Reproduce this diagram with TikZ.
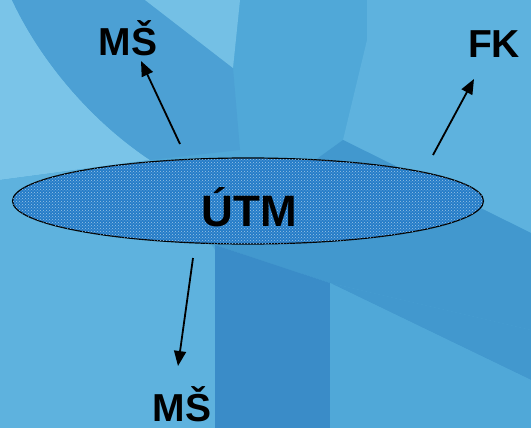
\documentclass[tikz,border=0pt]{standalone}
\usepackage{fontspec}
\setmainfont{Liberation Sans}
\usetikzlibrary{arrows.meta,patterns,shapes.geometric}
\definecolor{bgbase}{RGB}{80,168,216}
\definecolor{bglight}{RGB}{122,196,232}
\definecolor{bgmid}{RGB}{94,178,222}
\definecolor{bgband}{RGB}{76,160,212}
\definecolor{bgdark}{RGB}{66,152,206}
\definecolor{bgdarker}{RGB}{58,140,200}
\definecolor{ellfill}{RGB}{36,124,200}
\tikzset{
  lbl/.style={font=\fontsize{39}{39}\selectfont\bfseries, inner sep=0pt},
  conn/.style={line width=1.8pt, -{Triangle[length=15pt,width=12pt]}},
}
\begin{document}
\begin{tikzpicture}[x=1pt,y=-1pt]
\useasboundingbox (0,0) rectangle (531,428);
% background
\fill[bgbase] (0,0) rectangle (531,428);
\fill[bglight] (0,0) -- (12,0) .. controls (40,60) and (90,120) .. (150,160) -- (0,180) -- cycle;
\fill[bgband] (12,0) .. controls (40,60) and (90,120) .. (150,160) -- (240,150) -- (233,68) -- (145,0) -- cycle;
\fill[bglight!85!bgbase] (145,0) -- (240,0) -- (233,68) -- cycle;
\fill[bgmid] (0,180) -- (150,160) -- (215,250) -- (215,428) -- (0,428) -- cycle;
\fill[bgmid] (367,0) -- (531,0) -- (531,233) -- (343,140) -- (367,40) -- cycle;
\fill[bgdark] (343,140) -- (531,233) -- (531,330) -- (330,283) -- (215,245) -- (260,200) -- cycle;
\fill[bgdarker] (215,245) -- (330,283) -- (330,428) -- (215,428) -- cycle;
\fill[bgdark] (330,283) -- (531,330) -- (531,380) -- (330,283) -- cycle;
\fill[bgbase] (330,283) -- (531,380) -- (531,428) -- (330,428) -- cycle;
% ellipse
\node[draw=black, line width=1.2pt, fill=ellfill, ellipse, minimum width=471pt, minimum height=86pt,
      postaction={pattern=crosshatch dots, pattern color=white!55!ellfill}] (utm) at (248,201) {};
\node[lbl, font=\fontsize{44}{44}\selectfont\bfseries] (utmtext) at (249,207) {ÚTM};
% labels
\node[lbl] (ms1) at (128,38) {MŠ};
\node[lbl] (fk) at (494,44) {FK};
\node[lbl] (ms2) at (182,404) {MŠ};
% connector ends
\coordinate (a1) at (180,144);
\coordinate (b1) at (141,61);
\coordinate (a2) at (433,155);
\coordinate (b2) at (474,79);
\coordinate (a3) at (193,258);
\coordinate (b3) at (178,366);
\draw[conn] (a1) -- (b1);
\draw[conn] (a2) -- (b2);
\draw[conn] (a3) -- (b3);
\end{tikzpicture}
\end{document}
